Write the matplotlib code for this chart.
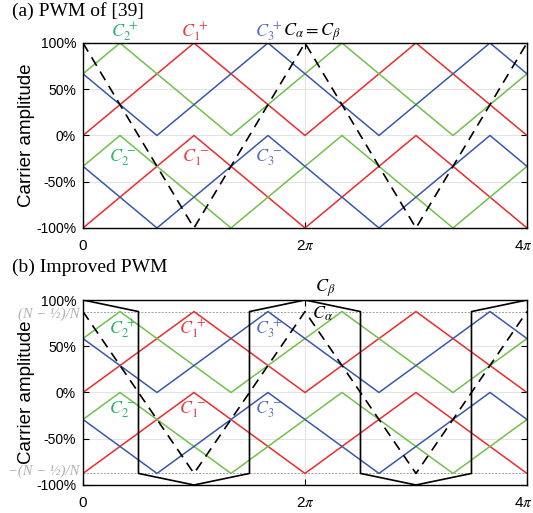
"""
Carrier waveforms: PWM of [39] vs improved PWM
"""

import numpy as np
import matplotlib.pyplot as plt
import matplotlib.transforms as mtransforms

#%% Data (x in units of pi, y as fraction of full scale)
N = 4
scale_b = (N - 0.5) / N

red_up_x = [0, 1, 2, 3, 4]
red_up_y = [0, 1, 0, 1, 0]
red_dn_y = [-1, 0, -1, 0, -1]

green_up_x = [0, 1/3, 4/3, 7/3, 10/3, 4]
green_up_y = [2/3, 1, 0, 1, 0, 2/3]
green_dn_y = [-1/3, 0, -1, 0, -1, -1/3]

blue_up_x = [0, 2/3, 5/3, 8/3, 11/3, 4]
blue_up_y = [2/3, 0, 1, 0, 1, 2/3]
blue_dn_y = [-1/3, -1, 0, -1, 0, -1/3]

ref_x = [0, 1, 2, 3, 4]
ref_y = [1, -1, 1, -1, 1]

cbeta_x = [0, 0.5, 0.5, 1, 1.5, 1.5, 2, 2.5, 2.5, 3, 3.5, 3.5, 4]
cbeta_y = [1, 0.875, -0.875, -1, -0.875, 0.875, 1, 0.875, -0.875, -1, -0.875, 0.875, 1]

yticks = [-1, -0.5, 0, 0.5, 1]
yticklabels = ['-100%', '-50%', '0%', '50%', '100%']
xticks = [0, 2, 4]
xticklabels = ['0', r'2$\pi$', r'4$\pi$']

#%% Style
plt.rcParams['font.family'] = ['Liberation Sans', 'DejaVu Sans']
plt.rcParams['mathtext.fontset'] = 'stix'

RED = '#ee2a2e'
GREEN = '#72c04a'
BLUE = '#3a58a8'
RED_T = '#ec3a44'
GREEN_T = '#2bb46a'
BLUE_T = '#5a6ec0'
GRAY_T = '#b0b0b0'

fig = plt.figure(figsize=(5.33, 5.13), dpi=100)
ax_a = fig.add_axes([0.1557, 0.5556, 0.833, 0.3606])
ax_b = fig.add_axes([0.1557, 0.0546, 0.833, 0.3606])


def setup(ax):
    ax.set_xlim(0, 4)
    ax.set_ylim(-1, 1)
    ax.set_yticks(yticks)
    ax.set_yticklabels(yticklabels, fontsize=10)
    ax.set_xticks(xticks)
    ax.set_xticklabels(xticklabels, fontsize=11)
    ax.tick_params(direction='in', length=4, width=0.8, top=True, right=True)
    ax.tick_params(axis='x', pad=8)
    ax.tick_params(axis='y', pad=5)
    # keep the last x label inside the figure
    last = ax.get_xticklabels()[-1]
    last.set_transform(last.get_transform() +
                       mtransforms.ScaledTranslation(-4 / 100, 0, fig.dpi_scale_trans))
    for s in ax.spines.values():
        s.set_linewidth(1.0)
    for y in [-0.5, 0, 0.5]:
        ax.axhline(y, color='#e3e3e3', lw=0.8, zorder=0)
    ax.axvline(2, color='#e3e3e3', lw=0.8, zorder=0)
    ax.set_ylabel('Carrier amplitude', fontsize=13.5, labelpad=1)


def carriers(ax, k):
    ax.plot(red_up_x, np.array(red_up_y) * k, color=RED, lw=1.1)
    ax.plot(red_up_x, np.array(red_dn_y) * k, color=RED, lw=1.1)
    ax.plot(green_up_x, np.array(green_up_y) * k, color=GREEN, lw=1.1)
    ax.plot(green_up_x, np.array(green_dn_y) * k, color=GREEN, lw=1.1)
    ax.plot(blue_up_x, np.array(blue_up_y) * k, color=BLUE, lw=1.1)
    ax.plot(blue_up_x, np.array(blue_dn_y) * k, color=BLUE, lw=1.1)
    ax.plot(ref_x, np.array(ref_y) * k, color='black', lw=1.2, dashes=(6, 4))


def clabel(ax, x, y, s, c):
    ax.text(x, y, s, color=c, fontsize=13, ha='center', va='center', clip_on=False)


#%% (a) PWM of [39]
setup(ax_a)
carriers(ax_a, 1.0)
clabel(ax_a, 0.38, 1.12, r'$C_2^{\,+}$', GREEN_T)
clabel(ax_a, 1.01, 1.12, r'$C_1^{\,+}$', RED_T)
clabel(ax_a, 1.67, 1.12, r'$C_3^{\,+}$', BLUE_T)
clabel(ax_a, 2.06, 1.12, r'$C_\alpha = C_\beta$', 'black')
clabel(ax_a, 0.36, -0.24, r'$C_2^{\,-}$', GREEN_T)
clabel(ax_a, 1.01, -0.24, r'$C_1^{\,-}$', RED_T)
clabel(ax_a, 1.67, -0.24, r'$C_3^{\,-}$', BLUE_T)
fig.text(0.022, 0.979, '(a) PWM of [39]', family='Liberation Serif', fontsize=14,
         ha='left', va='center')

#%% (b) Improved PWM
setup(ax_b)
for y in [scale_b, -scale_b]:
    ax_b.axhline(y, color='#a0a0a0', lw=0.7, ls=(0, (2, 1.5)), zorder=0)
carriers(ax_b, scale_b)
ax_b.plot(cbeta_x, cbeta_y, color='black', lw=1.2, zorder=3)
clabel(ax_b, 0.36, 0.68, r'$C_2^{\,+}$', GREEN_T)
clabel(ax_b, 0.99, 0.68, r'$C_1^{\,+}$', RED_T)
clabel(ax_b, 1.67, 0.68, r'$C_3^{\,+}$', BLUE_T)
clabel(ax_b, 0.36, -0.19, r'$C_2^{\,-}$', GREEN_T)
clabel(ax_b, 0.99, -0.19, r'$C_1^{\,-}$', RED_T)
clabel(ax_b, 1.67, -0.19, r'$C_3^{\,-}$', BLUE_T)
clabel(ax_b, 2.18, 1.13, r'$C_\beta$', 'black')
clabel(ax_b, 2.16, 0.85, r'$C_\alpha$', 'black')
ax_b.text(-0.03, scale_b - 0.025, '(N − ½)/N', family='Liberation Serif', style='italic',
          color=GRAY_T, fontsize=10.5, ha='right', va='center', clip_on=False)
ax_b.text(-0.03, -scale_b + 0.025, '−(N − ½)/N', family='Liberation Serif', style='italic',
          color=GRAY_T, fontsize=10.5, ha='right', va='center', clip_on=False)
fig.text(0.022, 0.478, '(b) Improved PWM', family='Liberation Serif', fontsize=14,
         ha='left', va='center')

fig.savefig('out.png', dpi=100)
